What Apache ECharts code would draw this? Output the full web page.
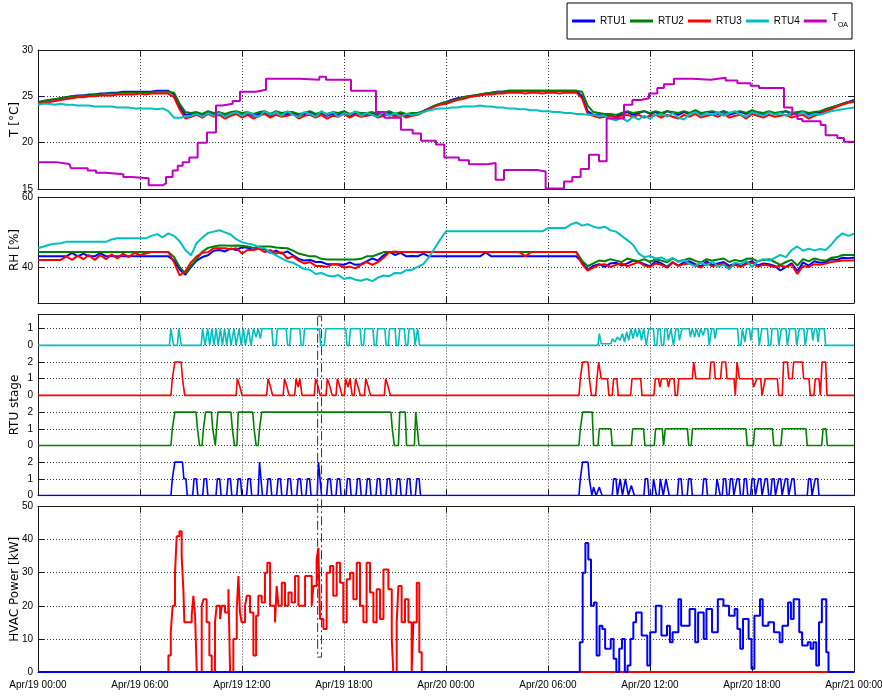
<!DOCTYPE html>
<html>
<head>
<meta charset="utf-8">
<script src="https://cdn.jsdelivr.net/npm/echarts@6/dist/echarts.min.js"></script>
<style>
  html, body { margin: 0; padding: 0; background: #ffffff; }
  #chart { width: 882px; height: 698px; }
</style>
</head>
<body>
<div id="chart"></div>
<script>
// ---------------------------------------------------------------------------
// Two days of rooftop-unit monitoring, Apr/19 00:00 to Apr/21 00:00.
// Zone temperature and humidity are logged every 20 minutes (one line = 4 h).
// ---------------------------------------------------------------------------
const dayLabels = ['Apr/19', 'Apr/20', 'Apr/21'];
const legendNames = ['RTU1', 'RTU2', 'RTU3', 'RTU4', 'T_OA'];

// Zone temperature [°C]
const tempRTU1 = [
  24.4, 24.5, 24.6, 24.7, 24.8, 24.9, 25.0, 25.1, 25.1, 25.2, 25.2, 25.3,
  25.3, 25.4, 25.4, 25.5, 25.5, 25.5, 25.5, 25.5, 25.5, 25.6, 25.6, 25.6,
  25.2, 23.9, 23.0, 23.1, 23.2, 22.9, 23.3, 23.0, 23.2, 22.9, 23.1, 23.3,
  23.0, 23.2, 22.9, 23.1, 23.2, 22.9, 23.3, 23.0, 23.1, 23.2, 22.9, 23.1,
  23.3, 23.0, 23.2, 22.9, 23.1, 23.0, 23.3, 22.9, 23.2, 23.0, 23.1, 23.2,
  22.9, 23.1, 23.3, 23.0, 23.2, 22.9, 23.1, 23.1, 23.4, 23.7, 24.0, 24.2,
  24.4, 24.6, 24.8, 24.9, 25.0, 25.1, 25.2, 25.3, 25.4, 25.5, 25.5, 25.6,
  25.6, 25.6, 25.6, 25.6, 25.6, 25.6, 25.6, 25.6, 25.6, 25.6, 25.6, 25.6,
  25.0, 23.4, 23.0, 23.0, 22.9, 22.9, 22.8, 23.1, 23.3, 23.0, 23.2, 23.4,
  23.1, 23.3, 23.0, 23.4, 23.2, 23.0, 23.3, 23.1, 23.4, 23.0, 23.2, 23.3,
  23.1, 23.4, 23.0, 23.2, 23.3, 23.1, 23.4, 23.2, 23.0, 23.3, 23.1, 23.2,
  23.4, 23.0, 23.2, 23.3, 23.1, 23.2, 23.3, 23.6, 23.8, 24.0, 24.2, 24.4,
  24.6
];
const tempRTU2 = [
  24.3, 24.5, 24.6, 24.7, 24.8, 24.9, 25.0, 25.0, 25.1, 25.1, 25.2, 25.2,
  25.3, 25.3, 25.3, 25.4, 25.4, 25.4, 25.4, 25.4, 25.4, 25.5, 25.5, 25.5,
  25.4, 24.2, 23.3, 23.2, 23.3, 23.1, 23.4, 23.2, 23.3, 23.1, 23.3, 23.4,
  23.2, 23.3, 23.1, 23.3, 23.4, 23.1, 23.4, 23.2, 23.3, 23.3, 23.1, 23.2,
  23.4, 23.1, 23.3, 23.1, 23.3, 23.2, 23.4, 23.1, 23.3, 23.2, 23.2, 23.3,
  23.1, 23.2, 23.4, 23.1, 23.3, 23.1, 23.2, 23.2, 23.4, 23.7, 24.0, 24.2,
  24.4, 24.5, 24.7, 24.9, 25.0, 25.1, 25.2, 25.3, 25.4, 25.5, 25.5, 25.6,
  25.6, 25.6, 25.6, 25.6, 25.6, 25.6, 25.6, 25.6, 25.6, 25.6, 25.6, 25.6,
  25.5, 24.0, 23.3, 23.2, 23.1, 23.1, 23.0, 23.2, 23.4, 23.2, 23.3, 23.4,
  23.2, 23.4, 23.2, 23.4, 23.3, 23.2, 23.4, 23.2, 23.5, 23.2, 23.3, 23.4,
  23.2, 23.4, 23.2, 23.3, 23.4, 23.2, 23.5, 23.3, 23.2, 23.4, 23.2, 23.3,
  23.4, 23.2, 23.3, 23.4, 23.2, 23.3, 23.4, 23.6, 23.8, 24.0, 24.2, 24.4,
  24.5
];
const tempRTU3 = [
  24.2, 24.3, 24.4, 24.5, 24.6, 24.7, 24.8, 24.9, 24.9, 25.0, 25.0, 25.1,
  25.1, 25.1, 25.2, 25.2, 25.2, 25.2, 25.3, 25.2, 25.3, 25.3, 25.3, 25.3,
  24.9, 23.6, 22.6, 22.8, 23.0, 22.7, 23.1, 22.8, 23.0, 22.6, 22.9, 23.1,
  22.7, 23.0, 22.6, 22.9, 23.1, 22.7, 23.0, 22.8, 22.9, 23.1, 22.6, 22.9,
  23.0, 22.7, 23.0, 22.6, 22.9, 22.8, 23.1, 22.7, 23.0, 22.8, 22.9, 23.0,
  22.7, 22.9, 23.1, 22.8, 23.0, 22.7, 22.9, 23.0, 23.3, 23.6, 23.9, 24.1,
  24.2, 24.4, 24.6, 24.7, 24.9, 25.0, 25.1, 25.2, 25.2, 25.3, 25.3, 25.4,
  25.4, 25.4, 25.3, 25.4, 25.4, 25.3, 25.4, 25.4, 25.3, 25.4, 25.4, 25.4,
  24.8, 23.1, 22.9, 22.7, 22.8, 22.9, 22.7, 22.9, 23.0, 22.8, 23.0, 22.7,
  22.9, 23.0, 22.7, 23.0, 22.8, 22.6, 23.0, 22.8, 23.1, 22.7, 22.9, 23.0,
  22.8, 23.1, 22.7, 22.9, 23.0, 22.6, 23.1, 22.9, 22.7, 23.0, 22.8, 22.9,
  23.0, 22.7, 22.9, 23.0, 22.6, 22.9, 23.1, 23.4, 23.6, 23.9, 24.1, 24.3,
  24.4
];
const tempRTU4 = [
  24.1, 24.2, 24.2, 24.1, 24.2, 24.1, 24.1, 24.0, 24.0, 24.0, 23.9, 23.9,
  23.9, 23.9, 23.8, 23.8, 23.8, 23.7, 23.7, 23.7, 23.7, 23.6, 23.7, 23.4,
  22.7, 22.7, 22.8, 22.9, 23.1, 22.8, 23.2, 22.9, 23.2, 22.8, 23.1, 23.3,
  22.9, 23.3, 23.0, 22.8, 23.4, 23.0, 23.3, 22.9, 23.4, 23.0, 22.8, 23.3,
  23.1, 22.8, 23.4, 23.0, 23.3, 22.8, 23.2, 23.0, 23.4, 22.9, 23.2, 23.0,
  22.8, 23.3, 22.9, 23.2, 22.8, 23.1, 23.0, 23.1, 23.3, 23.5, 23.6, 23.7,
  23.7, 23.8, 23.8, 23.9, 23.9, 23.9, 24.0, 23.9, 23.9, 23.8, 23.8, 23.7,
  23.7, 23.6, 23.6, 23.5, 23.5, 23.4, 23.4, 23.3, 23.3, 23.2, 23.2, 23.1,
  23.1, 23.0, 23.0, 22.9, 22.9, 22.6, 22.4, 22.7, 22.3, 22.8, 22.5, 22.9,
  22.6, 23.0, 23.1, 22.8, 23.2, 22.7, 22.5, 23.1, 23.3, 22.9, 23.2, 23.0,
  23.3, 22.9, 23.2, 23.4, 23.0, 22.8, 23.3, 23.1, 22.9, 23.3, 23.0, 23.2,
  22.9, 23.2, 23.0, 23.3, 22.8, 23.1, 23.0, 23.2, 23.4, 23.5, 23.6, 23.7,
  23.8
];

// Outdoor air temperature [°C], stepwise: [hour, value held from that hour]
const outdoorTemp = [
  [0, 17.9], [1.06, 17.7], [1.84, 17.85], [1.94, 17.25], [2.92, 17.0], [3.41, 16.75],
  [4.0, 16.6], [5.02, 16.3], [5.47, 16.15], [6.51, 15.4], [7.33, 15.6], [7.53, 16.3],
  [7.92, 17.0], [8.22, 17.5], [8.51, 17.9], [8.9, 18.4], [9.39, 20.0], [9.94, 21.1],
  [10.47, 24.0], [10.86, 24.2], [11.45, 24.5], [11.88, 25.5], [12.82, 25.7], [13.41, 26.9],
  [15.37, 26.8], [16.55, 27.1], [16.94, 26.8], [18.41, 25.6], [19.88, 23.3], [20.37, 22.7],
  [21.35, 21.4], [22.04, 21.0], [22.53, 20.2], [23.41, 19.8], [23.9, 18.4], [24.76, 18.1],
  [25.35, 17.66], [26.43, 17.8], [26.92, 16.0], [27.41, 17.05], [29.37, 16.9], [29.86, 15.05],
  [30.94, 15.8], [31.43, 16.3], [31.92, 17.15], [32.41, 18.7], [33.0, 18.0], [33.45, 22.6],
  [34.47, 24.1], [34.96, 24.6], [35.45, 24.8], [35.94, 25.3], [36.43, 25.9], [36.82, 26.3],
  [37.41, 26.9], [38.49, 26.8], [39.57, 27.0], [40.45, 26.7], [41.14, 26.4], [41.92, 26.15],
  [42.41, 25.9], [43.88, 23.8], [44.37, 23.1], [44.67, 22.55], [44.96, 22.3], [46.04, 21.9],
  [46.33, 20.8], [47.02, 20.5], [47.41, 20.1]
];

// Zone relative humidity [%]
const rhRTU1 = [
  43.2, 43.2, 43.2, 43.2, 43.2, 43.2, 44.2, 43.2, 44.0, 43.2, 43.2, 44.1,
  43.2, 43.2, 43.2, 43.2, 43.2, 43.2, 43.2, 43.2, 43.2, 43.2, 43.2, 43.2,
  42.0, 39.5, 38.0, 40.2, 42.0, 43.0, 43.5, 44.8, 45.0, 44.6, 45.4, 45.0,
  45.8, 45.6, 45.0, 45.8, 45.2, 44.2, 44.8, 44.0, 44.6, 43.5, 42.5, 42.0,
  42.2, 41.6, 41.6, 41.0, 41.0, 41.0, 40.8, 41.5, 40.8, 41.0, 41.8, 42.6,
  42.0, 43.5, 44.5, 43.6, 44.2, 43.2, 43.3, 43.2, 44.0, 43.2, 43.2, 43.2,
  43.2, 43.2, 43.2, 43.2, 43.2, 43.2, 43.2, 44.3, 43.2, 43.2, 43.2, 43.2,
  43.2, 43.2, 43.2, 43.2, 43.2, 43.2, 43.2, 43.2, 43.2, 43.2, 43.2, 43.2,
  41.5, 39.4, 40.5, 41.0, 40.2, 41.2, 41.4, 40.6, 41.2, 42.0, 41.6, 41.0,
  40.4, 41.8, 41.2, 40.2, 41.6, 40.6, 41.5, 41.8, 41.0, 40.4, 41.8, 40.8,
  41.2, 41.6, 40.5, 41.2, 40.4, 41.3, 41.8, 40.6, 41.2, 41.0, 40.5, 39.2,
  40.2, 41.2, 39.0, 41.5, 40.6, 41.8, 41.4, 41.6, 42.4, 42.2, 42.8, 42.7,
  42.8
];
const rhRTU2 = [
  44.4, 44.4, 44.4, 44.4, 44.4, 44.4, 44.4, 44.4, 44.4, 44.4, 44.4, 44.4,
  44.4, 44.4, 44.4, 44.4, 44.4, 44.4, 44.4, 44.4, 44.4, 44.4, 44.4, 44.4,
  43.0, 40.2, 38.4, 40.5, 42.5, 44.5, 45.6, 46.0, 46.3, 46.3, 46.2, 46.3,
  46.2, 46.0, 45.6, 46.0, 46.0, 46.0, 45.7, 45.6, 45.5, 44.8, 44.0, 43.6,
  43.2, 43.2, 42.5, 42.3, 42.3, 42.3, 42.3, 42.3, 42.3, 42.5, 43.2, 43.2,
  43.8, 44.4, 44.4, 44.4, 44.4, 44.4, 44.4, 44.4, 44.4, 44.4, 44.4, 44.4,
  44.4, 44.4, 44.4, 44.4, 44.4, 44.4, 44.4, 44.4, 44.4, 44.4, 44.4, 44.4,
  44.4, 44.4, 44.4, 44.4, 44.4, 44.4, 44.4, 44.4, 44.4, 44.4, 44.4, 44.4,
  42.0, 40.4, 41.2, 42.0, 41.8, 42.4, 42.0, 41.6, 42.6, 42.2, 41.8, 42.4,
  41.6, 42.4, 42.0, 41.5, 42.6, 41.8, 42.2, 42.6, 41.9, 41.5, 42.4, 42.0,
  42.3, 42.6, 41.6, 42.2, 41.8, 42.5, 42.6, 41.8, 42.2, 42.4, 41.6, 40.8,
  41.6, 42.2, 40.6, 42.4, 41.8, 42.6, 42.2, 42.0, 42.8, 43.0, 43.6, 43.6,
  43.6
];
const rhRTU3 = [
  42.2, 42.2, 42.2, 42.2, 42.2, 43.2, 42.2, 43.4, 42.4, 43.6, 42.2, 43.5,
  42.4, 43.8, 42.6, 44.0, 43.0, 44.2, 43.6, 44.0, 44.4, 44.4, 44.4, 44.4,
  41.5, 37.8, 39.0, 41.5, 43.2, 44.2, 44.4, 45.5, 45.5, 45.5, 45.2, 45.5,
  44.0, 45.0, 45.0, 45.4, 44.4, 45.0, 44.0, 44.4, 42.6, 43.2, 42.0, 41.2,
  41.6, 40.5, 40.5, 40.2, 41.0, 40.8, 40.0, 40.3, 39.8, 40.8, 41.6, 40.8,
  41.6, 42.8, 44.4, 44.6, 44.4, 44.4, 44.4, 44.4, 44.4, 44.4, 44.4, 44.4,
  44.4, 44.4, 44.4, 44.4, 44.4, 44.4, 44.4, 44.4, 44.4, 44.4, 44.4, 44.4,
  44.4, 44.4, 43.2, 44.4, 44.4, 44.4, 44.4, 44.4, 44.4, 44.4, 44.4, 44.4,
  41.0, 39.2, 40.0, 40.8, 41.0, 40.2, 40.8, 41.2, 40.4, 41.0, 41.6, 40.6,
  40.2, 41.2, 40.8, 40.0, 41.4, 40.5, 41.0, 41.2, 40.6, 40.0, 41.3, 40.4,
  40.8, 41.2, 40.0, 40.8, 40.2, 41.0, 41.4, 40.3, 40.8, 40.6, 40.1, 40.6,
  40.2, 40.8, 38.2, 40.5, 40.2, 41.0, 40.8, 41.2, 41.6, 41.8, 42.0, 42.0,
  42.0
];
const rhRTU4 = [
  45.5, 46.0, 46.5, 46.8, 46.9, 47.3, 47.3, 47.3, 47.3, 47.3, 47.3, 47.3,
  47.3, 48.0, 48.3, 48.3, 48.3, 48.3, 48.3, 48.3, 49.0, 49.5, 48.6, 49.7,
  49.0, 47.5, 45.0, 43.5, 47.0, 48.5, 49.8, 50.2, 50.6, 50.0, 49.4, 48.0,
  47.2, 46.8, 46.5, 45.8, 45.5, 44.3, 43.5, 42.6, 41.8, 41.4, 40.5, 39.6,
  39.4, 38.2, 38.5, 37.8, 37.5, 37.9, 36.8, 37.2, 36.6, 36.3, 36.8, 36.2,
  37.2, 37.8, 37.6, 38.5, 38.4, 39.3, 39.4, 40.2, 41.0, 43.0, 45.5, 48.0,
  50.3, 50.3, 50.3, 50.3, 50.3, 50.3, 50.3, 50.3, 50.3, 50.3, 50.3, 50.3,
  50.3, 50.3, 50.3, 50.3, 50.3, 50.3, 51.2, 51.2, 51.2, 51.2, 52.2, 52.8,
  51.9, 52.3, 51.6, 51.2, 51.6, 50.6, 50.2, 49.0, 47.8, 46.5, 44.0, 43.0,
  43.3, 42.6, 42.9, 42.0, 42.8, 41.6, 42.2, 41.0, 40.4, 41.5, 40.6, 41.8,
  40.3, 40.8, 39.5, 41.5, 41.0, 42.0, 40.2, 41.8, 42.4, 42.0, 42.8, 43.6,
  43.0, 45.0, 46.0, 44.8, 45.4, 44.9, 45.3, 45.0, 46.5, 48.5, 49.7, 49.0,
  49.6
];

// Compressor stage changes: [hour, new stage]
const stageRTU1 = [
  [7.82, 1], [7.97, 2], [8.5, 1], [8.7, 0],
  [9.1, 1], [9.32, 0], [9.69, 1], [9.91, 0], [10.47, 1], [10.69, 0], [11.1, 1], [11.32, 0],
  [11.69, 1], [11.91, 0], [12.27, 1], [12.49, 0], [12.95, 2], [13.12, 0], [13.45, 1], [13.67, 0],
  [14.04, 1], [14.26, 0], [14.63, 1], [14.85, 0], [15.22, 1], [15.44, 0], [15.76, 1], [15.98, 0],
  [16.42, 2], [16.6, 0], [16.98, 1], [17.2, 0], [17.53, 1], [17.75, 0], [18.12, 1], [18.34, 0],
  [18.71, 1], [18.93, 0], [19.29, 1], [19.51, 0], [19.88, 1], [20.1, 0], [20.47, 1], [20.69, 0],
  [21.06, 1], [21.28, 0], [21.65, 1], [21.87, 0], [22.2, 1], [22.42, 0],
  [31.82, 1], [31.95, 2], [32.35, 1], [32.5, 0], [32.6, 0.5], [32.75, 0],
  [32.94, 0.5], [33.1, 0], [33.78, 1], [34.0, 0], [34.17, 1], [34.3, 0], [34.47, 1], [34.65, 0],
  [34.82, 0.6], [35.0, 0], [35.64, 1], [35.86, 0], [36.13, 1], [36.3, 0], [36.53, 1], [36.7, 0],
  [36.86, 1], [37.05, 0], [37.61, 1], [37.83, 0], [38.19, 1], [38.41, 0], [39.08, 1], [39.3, 0],
  [39.86, 1], [40.05, 0], [40.25, 1], [40.45, 0], [40.65, 1], [40.85, 0], [41.04, 1], [41.24, 0],
  [41.47, 1], [41.67, 0], [41.92, 1], [42.12, 0], [42.31, 1], [42.51, 0], [42.7, 1], [42.9, 0],
  [43.1, 1], [43.3, 0], [43.49, 1], [43.69, 0], [43.88, 1], [44.08, 0], [44.27, 1], [44.47, 0],
  [45.25, 1], [45.45, 0], [45.64, 1], [45.86, 0]
];
const stageRTU2 = [
  [7.82, 1], [7.97, 2], [9.3, 1], [9.42, 0], [9.65, 1], [9.78, 2], [10.2, 1], [10.35, 0],
  [10.5, 2], [11.35, 1], [11.48, 0], [11.7, 2], [12.63, 1], [12.75, 0], [12.95, 1], [13.08, 2],
  [20.76, 1], [20.88, 0], [21.2, 2], [21.6, 0], [22.14, 2], [22.33, 0],
  [31.82, 1], [31.96, 2], [32.6, 0], [32.94, 1], [33.7, 0], [34.9, 1], [35.62, 0],
  [36.25, 1], [36.72, 0], [36.82, 1], [38.2, 0], [38.42, 1], [41.64, 0], [42.08, 1],
  [43.2, 0], [43.7, 1], [45.17, 0], [46.1, 1], [46.35, 0]
];
const stageRTU3 = [
  [7.82, 1], [7.97, 2], [8.42, 1], [8.55, 0],
  [11.65, 1], [11.8, 0.5], [11.92, 0], [13.45, 1], [13.6, 0.5], [13.72, 0],
  [14.42, 1], [14.57, 0.5], [14.69, 0], [15.1, 1], [15.22, 0.5], [15.32, 1], [15.45, 0],
  [16.25, 1], [16.4, 0.5], [16.52, 0], [16.94, 1], [17.1, 0.5], [17.22, 0],
  [17.53, 1], [17.68, 0.5], [17.8, 0], [18.02, 1], [18.15, 0.5], [18.27, 1], [18.4, 0],
  [18.6, 1], [18.75, 0.5], [18.88, 0], [19.2, 1], [19.35, 0.5], [19.48, 0],
  [20.37, 1], [20.52, 0.5], [20.65, 0],
  [31.82, 1], [31.95, 2], [32.35, 1], [32.48, 0], [32.8, 1], [32.9, 2], [33.05, 1],
  [33.5, 0], [33.78, 1], [34.05, 0], [34.86, 1], [35.45, 0], [36.23, 1], [36.5, 0.5],
  [36.6, 1], [37.0, 0.5], [37.1, 1], [37.41, 0], [37.61, 1], [38.49, 2], [38.62, 1],
  [39.5, 2], [39.76, 1], [40.15, 2], [40.45, 1], [40.94, 0], [41.04, 2], [41.18, 1],
  [42.02, 0.5], [42.2, 1], [42.51, 0], [42.7, 1], [43.49, 0], [43.78, 2], [44.08, 1],
  [44.37, 2], [44.96, 1], [45.35, 0], [45.64, 1], [45.94, 0], [46.04, 2], [46.33, 0]
];
const stageRTU4 = [
  [7.73, 1], [7.9, 0], [8.2, 1], [8.35, 0],
  [9.6, 1], [9.75, 0], [9.9, 1], [10.02, 0], [10.15, 1], [10.27, 0], [10.4, 1], [10.52, 0],
  [10.65, 1], [10.77, 0], [10.9, 1], [11.02, 0], [11.15, 1], [11.27, 0], [11.45, 1], [11.57, 0],
  [11.75, 1], [11.87, 0], [12.0, 1], [12.12, 0], [12.3, 1], [12.45, 0], [12.6, 1], [12.75, 0.5],
  [12.87, 1], [13.0, 0.4], [13.1, 1], [13.75, 0], [14.0, 1], [14.6, 0], [14.8, 1], [15.4, 0],
  [15.6, 1], [16.55, 0], [16.85, 1], [18.1, 0], [18.3, 1], [18.95, 0], [19.15, 1], [19.7, 0],
  [19.9, 1], [20.4, 0], [20.6, 1], [21.0, 0], [21.2, 1], [21.55, 0], [21.75, 1], [22.1, 0],
  [22.25, 1], [22.37, 0],
  [32.94, 0.7], [33.05, 0.1], [33.7, 0.4], [33.85, 0.2], [34.0, 0.5], [34.15, 0.3],
  [34.3, 0.7], [34.42, 0.2], [34.55, 0.8], [34.67, 0.3], [34.8, 1], [34.92, 0.4],
  [35.05, 1], [35.17, 0.5], [35.3, 1], [35.42, 0.3], [35.55, 1], [35.7, 0], [35.85, 1],
  [36.2, 0], [36.4, 1], [36.6, 0], [36.8, 1], [37.0, 0.3], [37.15, 1], [37.3, 0],
  [37.45, 1], [37.65, 0.3], [37.8, 1], [38.3, 0.5], [38.4, 1], [38.55, 0.5], [38.65, 1],
  [38.8, 0.5], [38.9, 1], [39.05, 0.6], [39.15, 1], [39.4, 0], [39.55, 1], [39.75, 0.4],
  [39.85, 1], [41.15, 0], [41.35, 1], [41.5, 0.2], [41.6, 1], [41.85, 0.3], [41.95, 1],
  [42.35, 0], [42.5, 1], [42.9, 0], [43.1, 1], [43.5, 0], [43.65, 1], [44.0, 0],
  [44.15, 1], [44.55, 0], [44.7, 1], [45.05, 0], [45.2, 1], [45.5, 0.3], [45.6, 1],
  [45.8, 0.2], [45.9, 1], [46.25, 0]
];

// HVAC electric power [kW], stepwise: [hour, value held from that hour]
const powerDay1 = [
  [0, 0], [7.67, 5], [7.81, 12], [7.92, 20], [8.06, 30], [8.16, 41], [8.32, 42.5], [8.45, 35],
  [8.55, 25], [8.61, 15], [9.04, 17], [9.14, 23], [9.24, 17], [9.34, 0], [9.63, 20], [9.73, 22],
  [9.92, 15], [10.08, 5], [10.22, 0], [10.41, 15], [10.51, 20], [10.71, 16], [10.81, 20],
  [11.0, 18], [11.2, 25], [11.3, 0], [11.49, 10], [11.69, 19], [11.79, 29], [11.88, 18],
  [11.98, 15], [12.18, 20], [12.28, 23], [12.47, 18], [12.67, 5], [12.83, 17], [12.96, 23],
  [13.16, 21], [13.35, 30], [13.49, 33], [13.65, 20], [13.94, 15], [14.04, 26], [14.14, 20],
  [14.34, 27], [14.53, 20], [14.73, 24], [14.92, 21], [15.12, 29], [15.32, 20], [15.71, 29],
  [16.1, 20], [16.2, 26], [16.39, 34], [16.49, 37.5], [16.59, 16], [16.79, 13], [16.98, 30],
  [17.18, 32], [17.37, 23], [17.57, 33], [17.77, 27], [17.96, 15], [18.16, 28], [18.35, 30],
  [18.55, 22], [18.75, 33], [18.94, 20], [19.14, 15], [19.33, 33], [19.53, 24], [19.73, 15],
  [19.92, 25], [20.12, 16], [20.32, 31], [20.61, 25], [20.81, 10], [20.9, 0], [21.1, 15],
  [21.2, 26], [21.39, 15], [21.59, 22], [21.79, 15], [21.98, 0], [22.08, 15], [22.28, 27],
  [22.43, 6], [22.57, 0]
];
const powerDay2 = [
  [0, 0], [31.87, 9], [32.04, 30], [32.2, 39], [32.37, 34], [32.53, 20], [32.7, 21], [32.86, 5],
  [33.03, 14], [33.2, 13], [33.36, 7], [33.69, 10], [33.86, 4], [34.02, 0], [34.19, 7],
  [34.35, 10], [34.52, 0], [34.68, 2], [34.85, 10], [35.02, 15], [35.18, 18], [35.51, 11],
  [35.84, 2], [36.01, 12], [36.34, 20], [36.67, 11], [37.0, 14], [37.17, 9], [37.33, 12],
  [37.67, 22], [37.83, 14], [38.33, 19], [38.66, 9], [38.83, 18], [39.16, 10], [39.32, 19],
  [39.65, 12], [39.99, 22], [40.32, 20], [40.65, 17], [40.98, 19], [41.14, 13], [41.31, 7],
  [41.47, 16], [41.8, 10], [41.97, 1], [42.14, 17], [42.47, 22], [42.63, 14], [42.96, 15],
  [43.29, 12], [43.63, 9], [43.79, 14], [44.12, 21], [44.29, 16], [44.45, 22], [44.78, 12],
  [44.95, 8], [45.28, 9], [45.45, 7], [45.61, 9], [45.78, 2], [45.94, 15], [46.11, 22],
  [46.37, 6], [46.5, 0]
];

// Dashed box marking the afternoon peak of Apr/19 (hours, stage level, kW)
const peakBoxHours = [16.45, 16.68];
const peakBoxStageTop = 10.75;
const peakBoxPowerBottom = 4.5;

// ---------------------------------------------------------------------------
const SPAN_END = 48;          // hours shown on the time axis
const SAMPLE_STEP = 1 / 3;    // 20-minute logging interval, hours
const STAGE_RAMP = 0.08;      // hours a stage change takes to show up
const STAGE_OFFSETS = [0, 3, 6, 9];   // RTU1 at the bottom, RTU4 on top

const COLORS = ['#0000ff', '#008000', '#ff0000', '#00bfbf', '#bf00bf'];
const AXIS = '#1a1a1a';
const GRIDLINE = '#3c3c3c';
const SANS = '"Liberation Sans", Arial, sans-serif';
const PLAIN = '"DejaVu Sans", sans-serif';

function sampled(values) {
  return values.map((v, i) => [i * SAMPLE_STEP, v]);
}
function held(changes) {
  return changes.concat([[SPAN_END, changes[changes.length - 1][1]]]);
}
function stageTrace(changes, offset) {
  const pts = [[0, offset]];
  let prev = 0;
  changes.forEach(([t, v]) => {
    pts.push([t, prev + offset], [t + STAGE_RAMP, v + offset]);
    prev = v;
  });
  pts.push([SPAN_END, prev + offset]);
  return pts;
}
function timeLabel(v) {
  const day = dayLabels[Math.floor(v / 24)];
  const h = v % 24;
  return day + ' ' + String(h).padStart(2, '0') + ':00';
}

const grids = [
  { left: 38, right: 28, top: 50, height: 139 },
  { left: 38, right: 28, top: 197, height: 106 },
  { left: 38, right: 28, top: 314.5, height: 181 },
  { left: 38, right: 28, top: 506.5, height: 165.5 }
].map(g => Object.assign(g, { containLabel: false, outerBoundsMode: 'none' }));

const xAxes = [];
const yAxes = [];
grids.forEach((g, gi) => {
  const common = {
    type: 'value', gridIndex: gi, min: 0, max: SPAN_END, interval: 6,
    axisLine: { show: true, onZero: false, lineStyle: { color: AXIS, width: 1 } },
    axisTick: { show: true, inside: true, length: 6, lineStyle: { color: AXIS } }
  };
  xAxes.push(Object.assign({}, common, {
    position: 'bottom',
    axisLabel: {
      show: gi === 3, formatter: timeLabel, color: '#000', fontSize: 10,
      fontFamily: SANS, margin: 8, hideOverlap: false
    },
    splitLine: { show: true, lineStyle: { color: GRIDLINE, type: [1, 2], width: 1 } }
  }));
  xAxes.push(Object.assign({}, common, {
    position: 'top', axisLabel: { show: false }, splitLine: { show: false }
  }));
});

const yDefs = [
  { name: 'T [°C]', min: 15, max: 30, interval: 5 },
  { name: 'RH [%]', min: 30, max: 60, custom: [40, 60] },
  { name: 'RTU stage', min: 0, max: 10.85, interval: 1,
    formatter: v => (Math.abs(v - Math.round(v)) < 1e-6 ? String(Math.round(v) % 3) : '') },
  { name: 'HVAC Power [kW]', min: 0, max: 50, interval: 10 }
];
yDefs.forEach((d, gi) => {
  const base = {
    type: 'value', gridIndex: gi, min: d.min, max: d.max,
    axisLine: { show: true, onZero: false, lineStyle: { color: AXIS, width: 1 } },
    axisTick: { show: true, inside: true, length: 6, lineStyle: { color: AXIS } }
  };
  if (d.interval) base.interval = d.interval;
  if (d.custom) base.axisTick.customValues = d.custom;
  const left = Object.assign({}, base, {
    position: 'left',
    name: d.name, nameLocation: 'middle', nameGap: 17, nameMoveOverlap: false,
    nameTextStyle: { color: '#000', fontSize: 12, fontFamily: PLAIN },
    axisLabel: {
      show: true, color: '#000', fontSize: 10, fontFamily: SANS, margin: 5,
      hideOverlap: false,
      formatter: d.formatter || (v => String(v))
    },
    splitLine: { show: true, lineStyle: { color: GRIDLINE, type: [1, 2], width: 1 } }
  });
  if (d.custom) left.axisLabel.customValues = d.custom;
  const right = Object.assign({}, base, {
    position: 'right', axisLabel: { show: false }, splitLine: { show: false }
  });
  yAxes.push(left, right);
});

function line(name, gi, data, color, width, extra) {
  return Object.assign({
    type: 'line', name: name, xAxisIndex: gi * 2, yAxisIndex: gi * 2, data: data,
    symbol: 'none', showSymbol: false, animation: false, silent: true,
    lineStyle: { color: color, width: width }, itemStyle: { color: color }
  }, extra || {});
}

const tempSeries = [tempRTU1, tempRTU2, tempRTU3, tempRTU4];
const rhSeries = [rhRTU1, rhRTU2, rhRTU3, rhRTU4];
const stageSeries = [stageRTU1, stageRTU2, stageRTU3, stageRTU4];

const series = [];
tempSeries.forEach((vals, k) => series.push(line(legendNames[k], 0, sampled(vals), COLORS[k], 2)));
series.push(line('T_OA', 0, held(outdoorTemp), COLORS[4], 2, { step: 'end' }));
rhSeries.forEach((vals, k) => series.push(line(legendNames[k] + ' RH', 1, sampled(vals), COLORS[k], 2)));
stageSeries.forEach((ch, k) =>
  series.push(line(legendNames[k] + ' stage', 2, stageTrace(ch, STAGE_OFFSETS[k]), COLORS[k], 1.6)));
series.push(line('HVAC power Apr/19', 3, held(powerDay1), COLORS[2], 2, { step: 'end' }));
series.push(line('HVAC power Apr/20', 3, held(powerDay2), COLORS[0], 2, { step: 'end' }));

const chart = echarts.init(document.getElementById('chart'), null, { renderer: 'canvas' });
chart.setOption({
  backgroundColor: '#ffffff',
  animation: false,
  grid: grids,
  xAxis: xAxes,
  yAxis: yAxes,
  legend: {
    data: legendNames,
    right: 30, top: 3, width: 330,
    orient: 'horizontal',
    icon: 'rect', itemWidth: 23, itemHeight: 3, itemGap: 4,
    padding: [10, 4, 10, 5],
    borderColor: '#000', borderWidth: 1, backgroundColor: '#fff',
    selectedMode: false,
    textStyle: {
      color: '#000', fontSize: 10, fontFamily: SANS,
      rich: {
        t: { fontSize: 10, fontFamily: SANS, color: '#000', verticalAlign: 'top', lineHeight: 16 },
        s: { fontSize: 7, fontFamily: SANS, color: '#000', verticalAlign: 'bottom', lineHeight: 16 }
      }
    },
    formatter: n => (n === 'T_OA' ? '{t|T}{s|OA}' : n)
  },
  series: series
});

// Dashed marker box spanning the stage and power panels
const bx0 = chart.convertToPixel({ xAxisIndex: 4 }, peakBoxHours[0]);
const bx1 = chart.convertToPixel({ xAxisIndex: 4 }, peakBoxHours[1]);
const by0 = chart.convertToPixel({ yAxisIndex: 4 }, peakBoxStageTop);
const by1 = chart.convertToPixel({ yAxisIndex: 6 }, peakBoxPowerBottom);
chart.setOption({
  graphic: [{
    type: 'rect', z: 100, silent: true,
    shape: { x: bx0, y: by0, width: bx1 - bx0, height: by1 - by0 },
    style: { fill: 'none', stroke: '#333', lineWidth: 1, lineDash: [9, 3, 2, 3] }
  }]
});
</script>
</body>
</html>
